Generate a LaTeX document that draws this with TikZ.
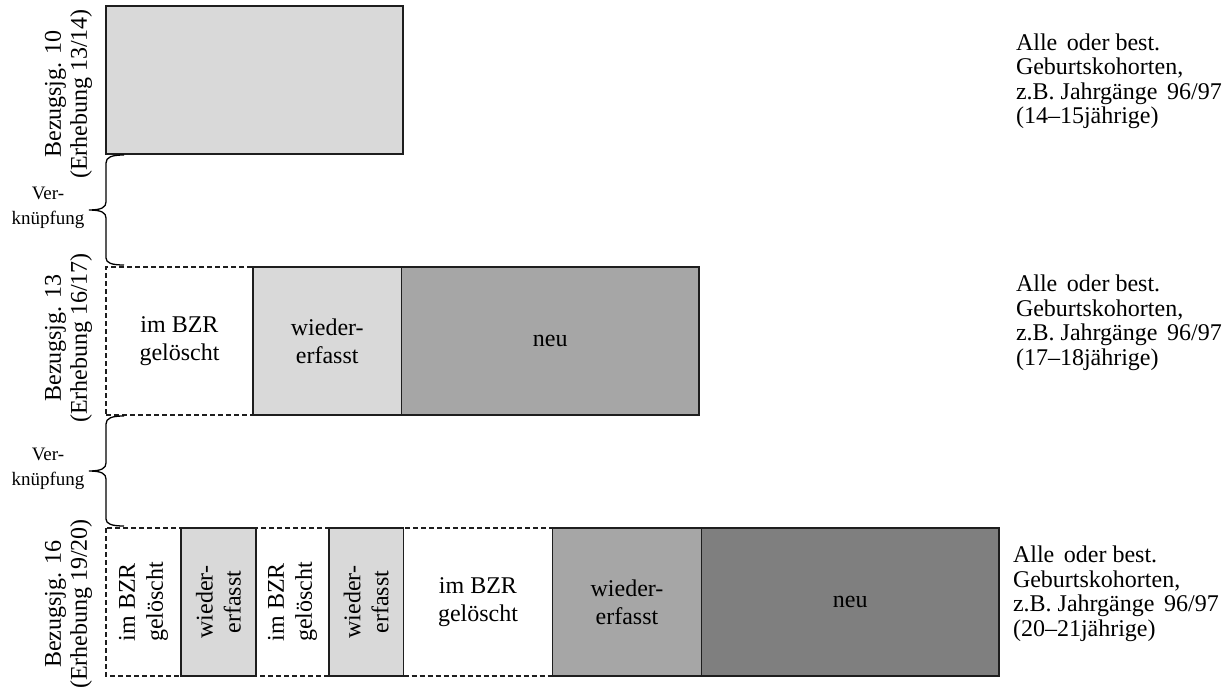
\documentclass[tikz,border=0pt]{standalone}
\usepackage{fontspec}
\setmainfont{Liberation Serif}
\definecolor{lgray}{RGB}{217,217,217}
\definecolor{mgray}{RGB}{166,166,166}
\definecolor{dgray}{RGB}{127,127,127}
\definecolor{edge}{RGB}{30,30,30}
\begin{document}
\begin{tikzpicture}[x=1pt,y=-1pt,
  every node/.style={inner sep=0pt, outer sep=0pt},
  boxtext/.style={font=\fontsize{24}{28}\selectfont, align=center},
  solidbox/.style={boxtext, draw=edge, line width=1.2pt},
  lightbox/.style={solidbox, fill=lgray},
  midbox/.style={solidbox, fill=mgray},
  darkbox/.style={solidbox, fill=dgray},
  dashbox/.style={boxtext, draw=edge, line width=1.1pt, dash pattern=on 5pt off 3pt},
  rowlabel/.style={rotate=90, align=center, font=\fontsize{24}{26}\selectfont},
  sidetext/.style={anchor=north west, align=left, font=\fontsize{24}{24.6}\selectfont},
  linktext/.style={align=center, font=\fontsize{19}{24.7}\selectfont},
  bracepath/.style={draw=black, line width=1.3pt}
]
\useasboundingbox (0,0) rectangle (1232,693);

% Row 1
\node[lightbox, minimum width=297pt, minimum height=148pt] (b1) at (254.5,80) {};
\node[rowlabel] (l1) at (68.5,94) {Bezugsjg. 10\\(Erhebung 13/14)};
\node[sidetext] (t1) at (1016,33.5) {Alle\hspace{0.4em}oder best.\\Geburtskohorten,\\z.B. Jahrgänge\hspace{0.4em}96/97\\(14–15jährige)};

% Row 2
\node[lightbox, minimum width=148.5pt, minimum height=148pt] (r2b) at (327.25,341) {wieder-\\erfasst};
\node[midbox, minimum width=297.5pt, minimum height=148pt] (r2c) at (550.25,341) {neu};
\node[dashbox, minimum width=147pt, minimum height=148pt] (r2a) at (179.5,341) {im BZR\\gelöscht};
\node[rowlabel] (l2) at (68.5,338) {Bezugsjg. 13\\(Erhebung 16/17)};
\node[sidetext] (t2) at (1016,275) {Alle\hspace{0.4em}oder best.\\Geburtskohorten,\\z.B. Jahrgänge\hspace{0.4em}96/97\\(17–18jährige)};

% Row 3
\node[lightbox, rotate=90, minimum width=148pt, minimum height=75pt] (r3b) at (218.5,602) {wieder-\\erfasst};
\node[lightbox, rotate=90, minimum width=148pt, minimum height=74.5pt] (r3d) at (366.25,602) {wieder-\\erfasst};
\node[midbox, minimum width=149pt, minimum height=148pt] (r3f) at (627,602) {wieder-\\erfasst};
\node[darkbox, minimum width=297.5pt, minimum height=148pt] (r3g) at (850.25,602) {neu};
\node[dashbox, rotate=90, minimum width=148pt, minimum height=75pt] (r3a) at (143.5,602) {im BZR\\gelöscht};
\node[dashbox, rotate=90, minimum width=148pt, minimum height=73pt] (r3c) at (292.5,602) {im BZR\\gelöscht};
\node[dashbox, minimum width=149pt, minimum height=148pt] (r3e) at (478,602) {im BZR\\gelöscht};
\node[rowlabel] (l3) at (68.5,604) {Bezugsjg. 16\\(Erhebung 19/20)};
\node[sidetext] (t3) at (1013,546) {Alle\hspace{0.4em}oder best.\\Geburtskohorten,\\z.B. Jahrgänge\hspace{0.4em}96/97\\(20–21jährige)};

% Links
\node[linktext] (k1) at (48,208) {Ver-\\knüpfung};
\node[linktext] (k2) at (48,469) {Ver-\\knüpfung};

\draw[bracepath] (124,155) .. controls (112,155) and (106,157) .. (106,163)
  -- (106,202) .. controls (106,207) and (102,210) .. (89,210)
  .. controls (102,210) and (106,213) .. (106,218)
  -- (106,258) .. controls (106,263) and (112,265) .. (124,265);
\draw[bracepath] (124,416) .. controls (112,416) and (106,418) .. (106,424)
  -- (106,463) .. controls (106,468) and (102,471) .. (89,471)
  .. controls (102,471) and (106,474) .. (106,479)
  -- (106,519) .. controls (106,524) and (112,526) .. (124,526);
\end{tikzpicture}
\end{document}
